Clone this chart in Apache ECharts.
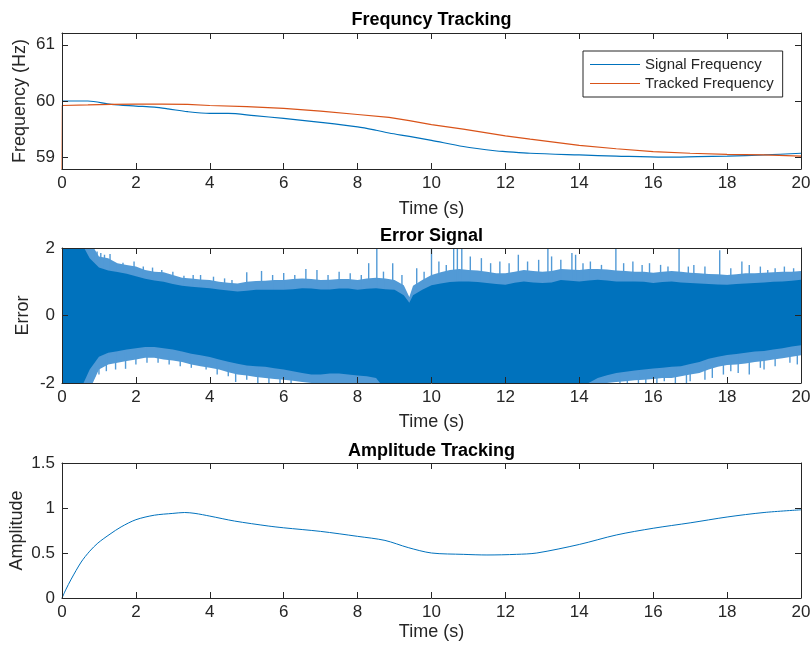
<!DOCTYPE html>
<html>
<head>
<meta charset="utf-8">
<script src="https://cdn.jsdelivr.net/npm/echarts@6/dist/echarts.min.js"></script>
<style>html,body{margin:0;padding:0;background:#fff}#c{width:811px;height:648px}</style>
</head>
<body>
<div id="c"></div>
<script>
// ---------- Data ----------
const timeTicks = [0,2,4,6,8,10,12,14,16,18,20];
const freqTicks = [59,60,61];

const sigTime = [0,0.7,1.33,2,2.5,2.87,3.4,4,4.5,5.2,6,7,8,8.5,8.85,9.4,10,10.86,11.77,12,12.67,14,15,16.3,17.2,18,19,20];
const sigFreq = [60.0,60.0,59.94,59.91,59.89,59.86,59.81,59.78,59.78,59.74,59.69,59.62,59.54,59.48,59.43,59.37,59.30,59.19,59.11,59.10,59.07,59.04,59.02,59.0,59.01,59.02,59.04,59.07];

const trkTime = [0,0.01,0.7,1.33,2,2.7,3.4,4,5,6,7,8,8.85,9.4,10,10.86,12,12.67,14,15,16,17,18,19,20];
const trkFreq = [58.5,59.92,59.93,59.94,59.945,59.945,59.94,59.92,59.9,59.87,59.82,59.76,59.71,59.65,59.58,59.50,59.38,59.32,59.21,59.15,59.10,59.07,59.05,59.04,59.02];

const errTime = [0,0.25,0.5,0.75,1,1.25,1.5,1.75,2,2.25,2.5,2.75,3,3.25,3.5,3.75,4,4.25,4.5,4.75,
  5,5.25,5.5,5.75,6,6.25,6.5,6.75,7,7.25,7.5,7.75,8,8.25,8.5,8.75,9,9.25,9.4,
  9.5,9.75,10,10.25,10.5,10.75,11,11.25,11.5,11.75,12,12.25,12.5,12.75,13,13.25,13.5,13.75,14,14.25,
  14.5,14.75,15,15.25,15.5,15.75,16,16.25,16.5,16.75,17,17.25,17.5,17.75,18,18.25,18.5,18.75,19,19.25,19.5,19.75,20];
// dense core of the error band
const errCoreUp = [2.2,2.2,2.2,1.7,1.42,1.33,1.29,1.24,1.16,1.09,
  1.04,1.0,0.93,0.88,0.85,0.83,0.81,0.77,0.74,0.71,
  0.73,0.76,0.76,0.76,0.76,0.78,0.81,0.8,0.77,0.77,
  0.8,0.8,0.76,0.79,0.81,0.78,0.76,0.6,
  0.38,
  0.6,0.76,0.9,0.95,0.99,1.01,1.01,0.99,0.96,0.93,
  0.91,0.97,1.01,0.98,0.96,0.98,1.05,1.03,1.01,1.04,
  1.06,1.04,1.01,1.01,1.01,1.0,0.96,0.99,1.01,0.98,
  0.96,0.95,0.93,0.92,0.91,0.93,0.95,0.96,0.98,1.0,
  1.01,1.03,1.06];
const errCoreLo = [-2.2,-2.2,-2.2,-1.6,-1.22,-1.1,-1.06,-1.01,-0.97,-0.93,
  -0.93,-0.97,-1.01,-1.07,-1.13,-1.18,-1.23,-1.3,-1.37,-1.43,
  -1.48,-1.5,-1.52,-1.56,-1.6,-1.65,-1.7,-1.75,-1.75,-1.72,
  -1.72,-1.75,-1.78,-1.8,-1.85,
  -2.2,-2.2,-2.2,-2.2,-2.2,-2.2,-2.2,-2.2,-2.2,-2.2,-2.2,-2.2,-2.2,-2.2,-2.2,-2.2,-2.2,-2.2,-2.2,-2.2,-2.2,-2.2,-2.2,
  -2.0,-1.85,-1.77,-1.7,-1.67,-1.63,-1.6,-1.57,-1.55,-1.52,-1.5,-1.44,-1.38,-1.28,-1.22,-1.17,-1.14,-1.1,-1.07,-1.05,-1.01,-0.97,-0.92,-0.88];
// lighter, hairy fringe of the error band
const errFringeUp = [2.2,2.2,2.2,2.2,1.75,1.7,1.55,1.5,1.45,1.35,
  1.3,1.28,1.2,1.12,1.1,1.07,1.05,1.0,0.97,0.95,
  1.0,1.02,1.03,1.05,1.05,1.08,1.1,1.08,1.05,1.06,
  1.08,1.08,1.05,1.1,1.12,1.1,1.05,0.9,
  0.55,
  0.88,1.05,1.2,1.28,1.35,1.38,1.35,1.33,1.3,1.25,
  1.25,1.3,1.35,1.32,1.3,1.32,1.38,1.36,1.35,1.38,
  1.38,1.36,1.33,1.32,1.3,1.3,1.27,1.3,1.32,1.3,
  1.27,1.25,1.23,1.22,1.2,1.22,1.25,1.25,1.27,1.28,
  1.3,1.3,1.32];
const errFringeLo = [-2.2,-2.2,-2.2,-2.2,-1.6,-1.45,-1.4,-1.35,-1.3,-1.25,
  -1.25,-1.3,-1.33,-1.38,-1.45,-1.5,-1.55,-1.6,-1.68,-1.75,
  -1.78,-1.82,-1.85,-1.88,-1.9,-1.93,-1.97,-2.0,-2.0,-2.0,
  -2.0,-2.0,-2.0,-2.0,-2.05,
  -2.2,-2.2,-2.2,-2.2,-2.2,-2.2,-2.2,-2.2,-2.2,-2.2,-2.2,-2.2,-2.2,-2.2,-2.2,-2.2,-2.2,-2.2,-2.2,-2.2,-2.2,-2.2,-2.2,
  -2.05,-2.0,-2.0,-1.97,-1.95,-1.92,-1.9,-1.88,-1.85,-1.85,-1.8,-1.75,-1.7,-1.6,-1.52,-1.47,-1.45,-1.42,-1.38,-1.35,-1.3,-1.27,-1.22,-1.18];
// individual tall spikes
const spikeUpTime = [0.85,1.05,1.3,1.65,1.95,2.45,3.3,3.75,5.0,5.4,6.0,6.3,6.6,6.9,7.5,8.3,8.52,8.95,9.6,10.0,10.2,10.6,10.7,10.82,11.05,11.35,11.85,12.35,12.9,13.15,13.25,13.8,13.9,14.3,14.99,15.45,15.9,16.2,16.7,17.1,17.8,18.4,18.6,19.3,19.55,
  0.95,1.15,1.5,2.2,2.7,3.0,3.55,4.1,4.4,4.6,5.7,7.2,7.8,8.1,8.7,9.2,9.8,10.4,11.6,12.1,12.6,13.5,14.1,14.6,15.2,15.7,16.4,16.95,17.4,18.1,18.9,19.1,19.8];
const spikeUpVal  = [2.05,1.85,1.82,1.56,1.6,1.42,1.18,1.2,1.28,1.32,1.26,1.2,1.38,1.35,1.3,1.55,2.05,1.55,1.4,2.05,1.6,2.05,2.05,2.05,1.75,1.7,1.6,1.8,1.65,2.05,1.75,1.85,1.8,1.6,2.05,1.6,1.55,1.5,2.05,1.5,1.93,1.6,1.5,1.4,1.45,
  1.9,1.8,1.5,1.45,1.35,1.3,1.2,1.15,1.1,1.05,1.2,1.2,1.25,1.2,1.3,1.2,1.3,1.5,1.55,1.55,1.6,1.65,1.55,1.5,1.55,1.5,1.45,1.45,1.45,1.4,1.45,1.35,1.4];
const spikeDnTime = [0.65,0.78,1.0,1.45,1.72,2.6,3.2,3.9,4.2,4.7,5.6,14.6,15.1,15.6,16.1,16.6,17.0,17.4,17.9,18.3,18.6,19.0,19.7,
  0.9,1.2,2.0,2.3,2.9,3.5,4.5,5.0,5.3,5.9,6.2,15.3,15.8,16.3,16.9,17.6,18.1,18.9,19.3,19.9];
const spikeDnVal  = [-2.05,-1.9,-1.75,-1.6,-1.58,-1.4,-1.5,-1.6,-1.75,-1.97,-2.0,-2.05,-2.05,-2.0,-2.05,-2.05,-1.95,-1.9,-1.75,-1.7,-1.75,-1.6,-1.4,
  -1.8,-1.65,-1.45,-1.4,-1.45,-1.55,-1.8,-1.9,-2.0,-2.0,-2.05,-2.05,-2.0,-1.95,-2.0,-1.85,-1.65,-1.55,-1.5,-1.45];

const ampTime = [0,0.1,0.25,0.52,0.75,0.97,1.3,1.6,2,2.5,3,3.32,3.6,4,4.67,5.58,6,7,8,8.74,9.37,10,10.86,11.5,12.3,12.85,14,15,16,17,18,19,20];
const ampVal  = [0,0.09,0.21,0.40,0.52,0.61,0.71,0.79,0.87,0.92,0.94,0.95,0.94,0.91,0.855,0.80,0.78,0.74,0.685,0.64,0.56,0.50,0.485,0.478,0.485,0.50,0.595,0.70,0.775,0.835,0.90,0.95,0.98];

// ---------- helpers ----------
[errCoreUp, errCoreLo, errFringeUp, errFringeLo].forEach(function(a){
  if (a.length !== errTime.length) throw new Error('length mismatch ' + a.length + ' vs ' + errTime.length);
});
if (spikeUpTime.length !== spikeUpVal.length || spikeDnTime.length !== spikeDnVal.length) throw new Error('spike mismatch');
function zip(a, b){ return a.map(function(v,i){ return [v, b[i]]; }); }

const FONT = 'Liberation Sans, Arial, Helvetica, sans-serif';
const AX = '#262626';
const BLUE = '#0072BD', ORANGE = '#D95319';
const FRINGE = '#529ad6';

const grids = [
  {left: 62, width: 739, top: 33, height: 136, outerBoundsMode: 'none', containLabel: false},
  {left: 62, width: 739, top: 248, height: 135, outerBoundsMode: 'none', containLabel: false},
  {left: 62, width: 739, top: 463, height: 135, outerBoundsMode: 'none', containLabel: false}
];
const xNameGap = [31, 30, 25];
const yDefs = [
  {min: 58.79, max: 61.21, custom: freqTicks, name: 'Frequency (Hz)', gap: 33},
  {min: -2, max: 2, interval: 2, name: 'Error', gap: 30},
  {min: 0, max: 1.5, interval: 0.5, name: 'Amplitude', gap: 36}
];

const xAxes = [], yAxes = [];
grids.forEach(function(g, i){
  const base = {
    type: 'value', gridIndex: i, min: 0, max: 20, interval: 2, z: 10,
    axisLine: {show: true, onZero: false, lineStyle: {color: AX, width: 1}},
    axisTick: {show: true, inside: true, length: 6, lineStyle: {color: AX, width: 1}},
    splitLine: {show: false}
  };
  xAxes.push(Object.assign({}, base, {
    position: 'bottom',
    axisLabel: {show: true, fontSize: 17, color: AX, margin: 6, fontFamily: FONT},
    name: 'Time (s)', nameLocation: 'middle', nameGap: xNameGap[i], nameMoveOverlap: false,
    nameTextStyle: {fontSize: 18, color: AX, fontFamily: FONT}
  }));
  xAxes.push(Object.assign({}, base, {position: 'top', axisLabel: {show: false}}));

  const d = yDefs[i];
  const yb = {
    type: 'value', gridIndex: i, min: d.min, max: d.max, z: 10,
    axisLine: {show: true, onZero: false, lineStyle: {color: AX, width: 1}},
    axisTick: {show: true, inside: true, length: 6, lineStyle: {color: AX, width: 1}},
    splitLine: {show: false}
  };
  if (d.interval) yb.interval = d.interval;
  if (d.custom) { yb.axisTick.customValues = d.custom; }
  const yl = Object.assign({}, yb, {
    position: 'left',
    axisLabel: {show: true, fontSize: 17, color: AX, margin: 7, fontFamily: FONT},
    name: d.name, nameLocation: 'middle', nameGap: d.gap, nameMoveOverlap: false,
    nameTextStyle: {fontSize: 18, color: AX, fontFamily: FONT}
  });
  if (d.custom) yl.axisLabel.customValues = d.custom;
  yAxes.push(yl);
  yAxes.push(Object.assign({}, yb, {position: 'right', axisLabel: {show: false}}));
});

// filled band between a lower and an upper envelope, positioned through the axes
function bandSeries(lo, hi, color, z){
  return {
    type: 'custom', xAxisIndex: 2, yAxisIndex: 2, silent: true, clip: true, z: z,
    data: errTime.map(function(t, i){ return [t, lo[i], hi[i]]; }),
    encode: {x: 0, y: [1, 2]},
    renderItem: function(params, api){
      if (params.dataIndex !== 0) return null;
      const pts = [];
      for (let i = 0; i < errTime.length; i++) pts.push(api.coord([errTime[i], hi[i]]));
      for (let i = errTime.length - 1; i >= 0; i--) pts.push(api.coord([errTime[i], lo[i]]));
      return {type: 'polygon', shape: {points: pts}, style: {fill: color, stroke: null}};
    }
  };
}
function spikeSeries(ts, vs){
  return {
    type: 'bar', xAxisIndex: 2, yAxisIndex: 2, data: zip(ts, vs), z: 2,
    barWidth: 1.4, barGap: '-100%', silent: true, clip: true,
    itemStyle: {color: FRINGE}
  };
}

const option = {
  animation: false,
  backgroundColor: '#ffffff',
  textStyle: {fontFamily: FONT},
  grid: grids,
  xAxis: xAxes,
  yAxis: yAxes,
  legend: {
    orient: 'vertical', left: 583, top: 51,
    padding: [6, 9, 6, 7], itemGap: 4, itemWidth: 50, itemHeight: 1.2,
    icon: 'rect',
    borderColor: AX, borderWidth: 1, backgroundColor: '#fff',
    textStyle: {fontSize: 15, lineHeight: 15, color: AX, fontFamily: FONT},
    data: ['Signal Frequency', 'Tracked Frequency']
  },
  graphic: [
    {type: 'text', x: 431.5, y: 20, style: {text: 'Frequncy Tracking', font: 'bold 18px ' + FONT, fill: '#000', textAlign: 'center', textVerticalAlign: 'middle'}},
    {type: 'text', x: 431.5, y: 236, style: {text: 'Error Signal', font: 'bold 18px ' + FONT, fill: '#000', textAlign: 'center', textVerticalAlign: 'middle'}},
    {type: 'text', x: 431.5, y: 451, style: {text: 'Amplitude Tracking', font: 'bold 18px ' + FONT, fill: '#000', textAlign: 'center', textVerticalAlign: 'middle'}}
  ],
  series: [
    {name: 'Signal Frequency', type: 'line', xAxisIndex: 0, yAxisIndex: 0, data: zip(sigTime, sigFreq),
     symbol: 'none', smooth: 0.3, clip: true, color: BLUE, lineStyle: {color: BLUE, width: 1.2}},
    {name: 'Tracked Frequency', type: 'line', xAxisIndex: 0, yAxisIndex: 0, data: zip(trkTime, trkFreq),
     symbol: 'none', clip: true, color: ORANGE, lineStyle: {color: ORANGE, width: 1.2}},
    bandSeries(errFringeLo, errFringeUp, FRINGE, 1),
    spikeSeries(spikeUpTime, spikeUpVal),
    spikeSeries(spikeDnTime, spikeDnVal),
    bandSeries(errCoreLo, errCoreUp, BLUE, 3),
    {name: 'Amplitude', type: 'line', xAxisIndex: 4, yAxisIndex: 4, data: zip(ampTime, ampVal),
     symbol: 'none', smooth: 0.3, clip: true, color: BLUE, lineStyle: {color: BLUE, width: 1}}
  ]
};

const chart = echarts.init(document.getElementById('c'), null, {renderer: 'canvas'});
chart.setOption(option);
</script>
</body>
</html>
